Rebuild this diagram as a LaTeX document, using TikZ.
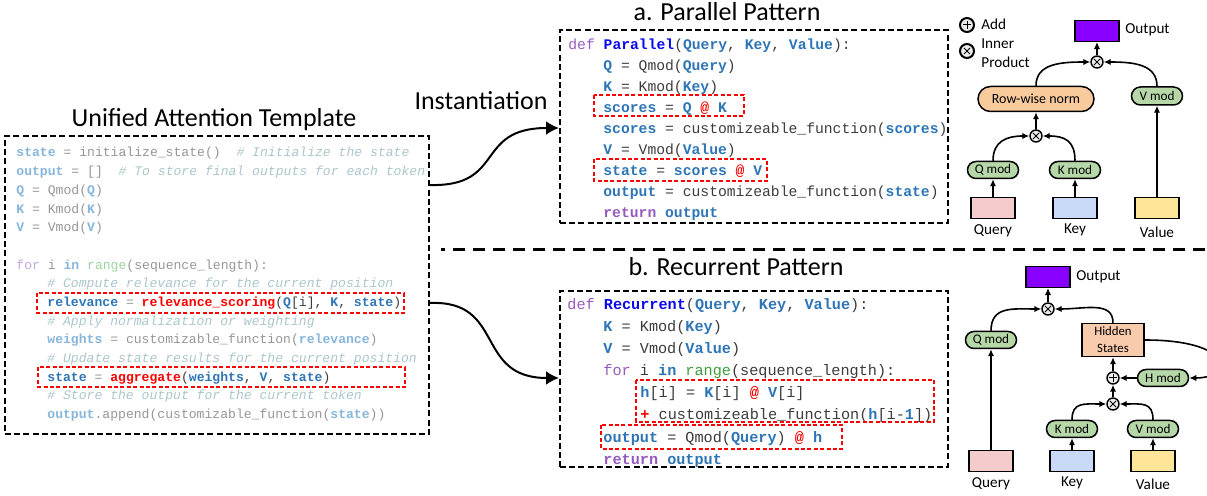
\documentclass[tikz,border=0pt]{standalone}
\usepackage{fontspec}
\setmainfont{Carlito}
\newfontfamily\codefont{Liberation Mono}
\usetikzlibrary{arrows.meta,fit,shapes.misc}

\definecolor{cblue}{RGB}{46,117,182}
\definecolor{fnblue}{RGB}{10,10,235}
\definecolor{hlred}{RGB}{255,0,0}
\definecolor{kwpurple}{RGB}{150,90,190}
\definecolor{rgreen}{RGB}{60,160,60}
\definecolor{codegray}{RGB}{60,60,60}
\definecolor{cmtgray}{RGB}{170,198,204}
\definecolor{fadeblue}{RGB}{135,182,220}
\definecolor{fadegray}{RGB}{150,150,150}
\definecolor{fadepurple}{RGB}{200,165,225}
\definecolor{fadegreen}{RGB}{160,210,160}
\definecolor{modgreen}{RGB}{182,215,168}
\definecolor{normorange}{RGB}{249,203,156}
\definecolor{hiddenorange}{RGB}{248,203,173}
\definecolor{querypink}{RGB}{244,204,204}
\definecolor{keyblue}{RGB}{201,218,248}
\definecolor{valueyellow}{RGB}{255,229,153}
\definecolor{outpurple}{RGB}{136,0,255}

% code colouring
\newcommand{\cv}[1]{{\bfseries\color{cblue}#1}}
\newcommand{\cfn}[1]{{\bfseries\color{fnblue}#1}}
\newcommand{\chl}[1]{{\bfseries\color{hlred}#1}}
\newcommand{\kwd}[1]{{\color{kwpurple}#1}}
\newcommand{\kwr}[1]{{\bfseries\color{kwpurple}#1}}
\newcommand{\cg}[1]{{\color{rgreen}#1}}
\newcommand{\ccm}[1]{{\itshape\color{cmtgray}#1}}
\newcommand{\fv}[1]{{\bfseries\color{fadeblue}#1}}
\newcommand{\fk}[1]{{\color{fadepurple}#1}}
\newcommand{\fg}[1]{{\color{fadegreen}#1}}
\newcommand{\dk}[1]{{\color{codegray}#1}}

\tikzset{
  codebox/.style={draw, line width=1pt, dash pattern=on 3pt off 1.6pt, inner sep=0pt},
  hlbox/.style={draw=hlred, line width=0.75pt, dash pattern=on 2pt off 1.2pt},
  tmplcode/.style={anchor=base west, inner sep=0pt, text=fadegray, font={\codefont\fontsize{6.55pt}{8pt}\selectfont}},
  parcode/.style={anchor=base west, inner sep=0pt, text=codegray, font={\codefont\fontsize{7.35pt}{9pt}\selectfont}},
  reccode/.style={anchor=base west, inner sep=0pt, text=codegray, font={\codefont\fontsize{7.6pt}{9pt}\selectfont}},
  title/.style={anchor=base, inner sep=0pt, font={\fontsize{13pt}{15pt}\selectfont}},
  lbl/.style={inner sep=0pt, font={\fontsize{7.6pt}{9.5pt}\selectfont}},
  modnode/.style={rounded rectangle, draw, line width=0.75pt, fill=modgreen, minimum width=25.5pt, minimum height=8.5pt, inner sep=0pt, font={\fontsize{6.6pt}{7pt}\selectfont}},
  inbox/.style={draw, line width=0.75pt, minimum width=22pt, minimum height=10.3pt, inner sep=0pt},
  mulnode/.style={circle, draw, line width=0.7pt, fill=gray!15, minimum size=6pt, inner sep=0pt,
    path picture={\draw[line width=0.5pt]
      ([shift={(-1.5pt,-1.5pt)}]path picture bounding box.center) -- ([shift={(1.5pt,1.5pt)}]path picture bounding box.center)
      ([shift={(-1.5pt,1.5pt)}]path picture bounding box.center) -- ([shift={(1.5pt,-1.5pt)}]path picture bounding box.center);}},
  addnode/.style={circle, draw, line width=0.7pt, fill=gray!15, minimum size=6pt, inner sep=0pt,
    path picture={\draw[line width=0.5pt]
      ([shift={(-1.9pt,0pt)}]path picture bounding box.center) -- ([shift={(1.9pt,0pt)}]path picture bounding box.center)
      ([shift={(0pt,-1.9pt)}]path picture bounding box.center) -- ([shift={(0pt,1.9pt)}]path picture bounding box.center);}},
  flow/.style={-{Latex[length=3.5pt,width=3.2pt]}, line width=0.8pt},
  bigarrow/.style={-{Latex[length=6.5pt,width=7pt]}, line width=1pt}
}

\begin{document}
\begin{tikzpicture}[x=0.5pt,y=-0.5pt]
  \useasboundingbox (0,0) rectangle (1207,496);

  % titles
  \node[title] (ttmpl) at (214,127) {Unified Attention Template};
  \node[title] (tinst) at (481,110) {Instantiation};
  \node[title] (tpar) at (727,21) {a. Parallel Pattern};
  \node[title] (trec) at (736,276) {b. Recurrent Pattern};

  % code boxes
  \node[codebox, fit={(5,136) (429,434)}] (tmpl) {};
  \node[codebox, fit={(560,30) (948,223)}] (par) {};
  \node[codebox, fit={(560,291) (948,467)}] (rec) {};

  % template code
  \node[tmplcode] (t1) at (16,157) {\fv{state} = initialize\_state()~~\ccm{\# Initialize the state}};
  \node[tmplcode] (t2) at (16,176) {\fv{output} = []~~\ccm{\# To store final outputs for each token}};
  \node[tmplcode] (t3) at (16,195) {\fv{Q} = Qmod(\fv{Q})};
  \node[tmplcode] (t4) at (16,214) {\fv{K} = Kmod(\fv{K})};
  \node[tmplcode] (t5) at (16,232) {\fv{V} = Vmod(\fv{V})};
  \node[tmplcode] (t6) at (16,270) {\fk{for} i \fv{in} \fg{range}(sequence\_length):};
  \node[tmplcode] (t7) at (47,288) {\ccm{\# Compute relevance for the current position}};
  \node[tmplcode] (t8) at (47,307) {\cv{relevance} = \chl{relevance\_scoring}\dk{(}\cv{Q}\dk{[i],} \cv{K}\dk{,} \cv{state}\dk{)}};
  \node[tmplcode] (t9) at (47,326) {\ccm{\# Apply normalization or weighting}};
  \node[tmplcode] (t10) at (47,344) {\fv{weights} = customizable\_function(\fv{relevance})};
  \node[tmplcode] (t11) at (47,363) {\ccm{\# Update state results for the current position}};
  \node[tmplcode] (t12) at (47,382) {\cv{state} = \chl{aggregate}\dk{(}\cv{weights}\dk{,} \cv{V}\dk{,} \cv{state}\dk{)}};
  \node[tmplcode] (t13) at (47,400) {\ccm{\# Store the output for the current token}};
  \node[tmplcode] (t14) at (47,419) {\fv{output}.append(customizable\_function(\fv{state}))};
  \draw[hlbox] (37,293) rectangle (404,313);
  \draw[hlbox] (38,367) rectangle (405,387);

  % parallel code
  \node[parcode] (p1) at (568,50) {\kwd{def} \cfn{Parallel}(\cv{Query}, \cv{Key}, \cv{Value}):};
  \node[parcode] (p2) at (603,71) {\cv{Q} = Qmod(\cv{Query})};
  \node[parcode] (p3) at (603,92) {\cv{K} = Kmod(\cv{Key})};
  \node[parcode] (p4) at (603,113) {\cv{scores} = \cv{Q} \chl{@} \cv{K}};
  \node[parcode] (p5) at (603,134) {\cv{scores} = customizeable\_function(\cv{scores})};
  \node[parcode] (p6) at (603,155) {\cv{V} = Vmod(\cv{Value})};
  \node[parcode] (p7) at (603,176) {\cv{state} = \cv{scores} \chl{@} \cv{V}};
  \node[parcode] (p8) at (603,197) {\cv{output} = customizeable\_function(\cv{state})};
  \node[parcode] (p9) at (603,218) {\kwr{return} \cv{output}};
  \draw[hlbox] (594,95) rectangle (744,116);
  \draw[hlbox] (594,159) rectangle (767,181);

  % recurrent code
  \node[reccode] (r1) at (567,310) {\kwd{def} \cfn{Recurrent}(\cv{Query}, \cv{Key}, \cv{Value}):};
  \node[reccode] (r2) at (603,332) {\cv{K} = Kmod(\cv{Key})};
  \node[reccode] (r3) at (603,354) {\cv{V} = Vmod(\cv{Value})};
  \node[reccode] (r4) at (603,376) {\kwd{for} i \cv{in} \cg{range}(sequence\_length):};
  \node[reccode] (r5) at (640,398) {\cv{h}[i] = \cv{K}[i] \chl{@} \cv{V}[i]};
  \node[reccode] (r6) at (640,420) {\chl{+} customizeable\_function(\cv{h}[i-\cv{1}])};
  \node[reccode] (r7) at (603,443) {\cv{output} = Qmod(\cv{Query}) \chl{@} \cv{h}};
  \node[reccode] (r8) at (603,465) {\kwr{return} \cv{output}};
  \draw[hlbox] (636,380) rectangle (934,422);
  \draw[hlbox] (601,425) rectangle (842,449);

  % instantiation arrows
  \draw[bigarrow] (tmpl.east |- 0,185) .. controls +(76,2) and +(-85,0) .. (par.west |- 0,128);
  \draw[bigarrow] (tmpl.east |- 0,303) .. controls +(76,-3) and +(-85,0) .. (rec.west |- 0,378);

  % separator
  \draw[line width=1.5pt, dash pattern=on 6pt off 4pt, dash phase=4pt] (441,250) -- (1210,250);

  % legend
  \node[addnode, line width=1pt, minimum size=7pt] (addsym) at (967,25) {};
  \node[lbl, anchor=west] (addtxt) at (981,24) {Add};
  \node[mulnode, line width=1pt, minimum size=7pt] (mulsym) at (967,51) {};
  \node[lbl, anchor=west, align=left] (multxt) at (981,53) {Inner\\Product};

  % parallel graph
  \node[inbox, fill=querypink] (queryA) at (993,208) {};
  \node[inbox, fill=keyblue] (keyA) at (1075,208) {};
  \node[inbox, fill=valueyellow] (valueA) at (1157,208) {};
  \node[lbl] (queryAl) at (993,231) {Query};
  \node[lbl] (keyAl) at (1075,230) {Key};
  \node[lbl] (valueAl) at (1157,232) {Value};
  \node[modnode] (qmodA) at (993,170) {Q mod};
  \node[modnode] (kmodA) at (1075,170) {K mod};
  \node[modnode, minimum height=9pt] (vmodA) at (1157,96) {V mod};
  \node[mulnode] (mulA1) at (1036,136) {};
  \node[rounded rectangle, draw, line width=0.75pt, fill=normorange, minimum width=58pt, minimum height=12.5pt, inner sep=0pt, font={\fontsize{7pt}{8pt}\selectfont}] (norm) at (1036,99) {Row-wise norm};
  \node[mulnode] (mulA2) at (1097,62) {};
  \node[inbox, fill=outpurple] (outA) at (1097,31) {};
  \node[lbl, anchor=west] (outAl) at (1125,30) {Output};

  \draw[flow] (queryA) -- (qmodA);
  \draw[flow] (keyA) -- (kmodA);
  \draw[flow] (valueA) -- (vmodA);
  \draw[flow] (qmodA.north) .. controls +(0,-20) and +(-22,0) .. (mulA1.west);
  \draw[flow] (kmodA.north) .. controls +(0,-20) and +(22,0) .. (mulA1.east);
  \draw[flow] (mulA1) -- (norm);
  \draw[flow] (norm.north) .. controls +(0,-22) and +(-30,0) .. (mulA2.west);
  \draw[flow] (vmodA.north) .. controls +(0,-22) and +(30,0) .. (mulA2.east);
  \draw[flow] (mulA2) -- (outA);

  % recurrent graph
  \node[inbox, fill=querypink] (queryB) at (991,461) {};
  \node[inbox, fill=keyblue] (keyB) at (1072,461) {};
  \node[inbox, fill=valueyellow] (valueB) at (1153,461) {};
  \node[lbl] (queryBl) at (991,484) {Query};
  \node[lbl] (keyBl) at (1072,483) {Key};
  \node[lbl] (valueBl) at (1153,484) {Value};
  \node[modnode] (qmodB) at (991,340) {Q mod};
  \node[modnode] (kmodB) at (1072,429) {K mod};
  \node[modnode] (vmodB) at (1153,429) {V mod};
  \node[mulnode] (mulB1) at (1113,404) {};
  \node[addnode] (addB) at (1113,378) {};
  \node[modnode] (hmodB) at (1163,378) {H mod};
  \node[draw, line width=0.75pt, fill=hiddenorange, minimum width=31pt, minimum height=16.5pt, inner sep=0pt, align=center, font={\fontsize{6.4pt}{8.4pt}\selectfont}] (hidden) at (1113,340) {Hidden\\States};
  \node[mulnode] (mulB2) at (1048,309) {};
  \node[inbox, fill=outpurple] (outB) at (1048,277) {};
  \node[lbl, anchor=west] (outBl) at (1076,277) {Output};

  \draw[flow] (queryB) -- (qmodB);
  \draw[flow] (keyB) -- (kmodB);
  \draw[flow] (valueB) -- (vmodB);
  \draw[flow] (kmodB.north) .. controls +(0,-18) and +(-22,0) .. (mulB1.west);
  \draw[flow] (vmodB.north) .. controls +(0,-18) and +(22,0) .. (mulB1.east);
  \draw[flow] (mulB1) -- (addB);
  \draw[flow] (addB) -- (hidden);
  \draw[flow] (hmodB) -- (addB);
  \draw[flow] (qmodB.north) .. controls +(0,-25) and +(-28,0) .. (mulB2.west);
  \draw[flow] (hidden.north) .. controls +(0,-22) and +(30,0) .. (mulB2.east);
  \draw[flow] (mulB2) -- (outB);
  \draw[flow] (hidden.east) .. controls +(90,0) and +(45,0) .. (hmodB.east); %loop back
\end{tikzpicture}
\end{document}
